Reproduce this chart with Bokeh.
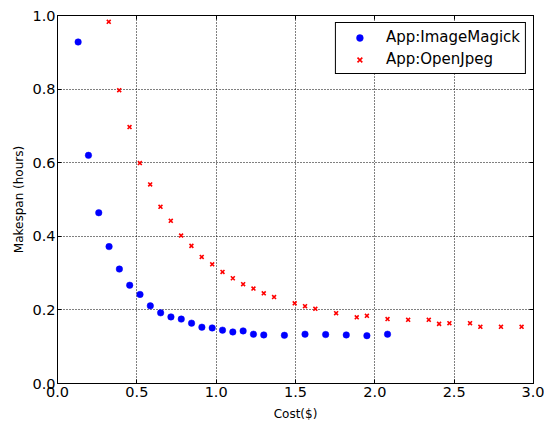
from bokeh.plotting import figure
from bokeh.models import Range1d, FixedTicker, Legend, LegendItem, CustomJSTickFormatter, LinearAxis
from bokeh.embed import file_html
from bokeh.resources import INLINE

# ImageMagick series
im_cost = [0.13, 0.195, 0.26, 0.325, 0.39, 0.455, 0.52, 0.585, 0.65, 0.715, 0.78, 0.845, 0.91,
           0.975, 1.04, 1.105, 1.17, 1.235, 1.30, 1.43, 1.56, 1.69, 1.82, 1.95, 2.08]
im_span = [0.928, 0.620, 0.464, 0.372, 0.311, 0.267, 0.242, 0.211, 0.192, 0.181, 0.175, 0.164, 0.153,
           0.151, 0.145, 0.140, 0.143, 0.134, 0.132, 0.131, 0.134, 0.133, 0.132, 0.130, 0.134]

# OpenJpeg series
oj_cost = [0.323, 0.389, 0.454, 0.519, 0.584, 0.649, 0.714, 0.779, 0.844, 0.909, 0.975, 1.04, 1.105,
           1.17, 1.235, 1.30, 1.365, 1.495, 1.56, 1.625, 1.756, 1.886, 1.95, 2.08, 2.21, 2.34, 2.405,
           2.47, 2.60, 2.665, 2.795, 2.925]
oj_span = [0.983, 0.797, 0.697, 0.599, 0.541, 0.480, 0.442, 0.402, 0.374, 0.344, 0.324, 0.303, 0.286,
           0.270, 0.258, 0.245, 0.235, 0.218, 0.210, 0.203, 0.191, 0.180, 0.184, 0.175, 0.173, 0.173, 0.162,
           0.164, 0.164, 0.154, 0.154, 0.154]

x_ticks = [0.0, 0.5, 1.0, 1.5, 2.0, 2.5, 3.0]
y_ticks = [0.0, 0.2, 0.4, 0.6, 0.8, 1.0]
x_label = "Cost($)"
y_label = "Makespan (hours)"
labels = ["App:ImageMagick", "App:OpenJpeg"]

FONT = "DejaVu Sans"

p = figure(frame_width=476, frame_height=368, output_backend="svg", toolbar_location=None,
           x_range=Range1d(0, 3), y_range=Range1d(0, 1),
           min_border_left=57, min_border_right=11, min_border_top=15, min_border_bottom=34)

p.background_fill_color = "white"
p.border_fill_color = "white"
p.outline_line_color = "black"
p.outline_line_width = 1

xa = p.below[0]
ya = p.left[0]
xa_top = LinearAxis()
ya_right = LinearAxis()
p.add_layout(xa_top, "above")
p.add_layout(ya_right, "right")

fmt = CustomJSTickFormatter(code="return tick.toFixed(1);")
for ax, ticks in ((xa, x_ticks), (ya, y_ticks), (xa_top, x_ticks), (ya_right, y_ticks)):
    ax.ticker = FixedTicker(ticks=ticks)
    ax.formatter = fmt
    ax.major_tick_in = 4
    ax.major_tick_out = 0
    ax.minor_tick_line_color = None
    ax.axis_line_color = "black"
    ax.major_label_text_font = FONT
    ax.major_label_text_font_size = "14.5px"
    ax.major_label_text_color = "black"
    ax.axis_label_text_font = FONT
    ax.axis_label_text_font_size = "12px"
    ax.axis_label_text_font_style = "normal"
    ax.axis_label_text_color = "black"

for ax in (xa_top, ya_right):
    ax.major_label_text_font_size = "0px"
    ax.major_label_standoff = 0
    ax.major_label_text_alpha = 0

xa.axis_label = x_label
ya.axis_label = y_label
xa.major_label_standoff = 3
ya.major_label_standoff = 2
xa.axis_label_standoff = 7
ya.axis_label_standoff = 3

p.xgrid.ticker = FixedTicker(ticks=x_ticks)
p.ygrid.ticker = FixedTicker(ticks=y_ticks)
for g in (p.xgrid[0], p.ygrid[0]):
    g.grid_line_color = "black"
    g.grid_line_dash = "1 2"
    g.grid_line_width = 1

r1 = p.scatter(im_cost, im_span, marker="circle", size=6.5, fill_color="#0000ff",
               line_color="#0000ff", line_width=0.5)
r2 = p.scatter(oj_cost, oj_span, marker="x", size=5.5, line_color="#ff0000", line_width=1.6)

legend = Legend(items=[LegendItem(label=labels[0], renderers=[r1]),
                       LegendItem(label=labels[1], renderers=[r2])],
                location="top_right")
legend.label_text_font = FONT
legend.label_text_font_size = "15px"
legend.label_text_color = "black"
legend.border_line_color = "black"
legend.border_line_width = 1
legend.border_line_alpha = 1
legend.background_fill_alpha = 1
legend.glyph_width = 37
legend.label_standoff = 8
legend.spacing = 4
legend.label_height = 17
legend.glyph_height = 17
legend.padding = 5
legend.margin = 7
p.add_layout(legend)

open("out.html", "w").write(file_html(p, INLINE))
